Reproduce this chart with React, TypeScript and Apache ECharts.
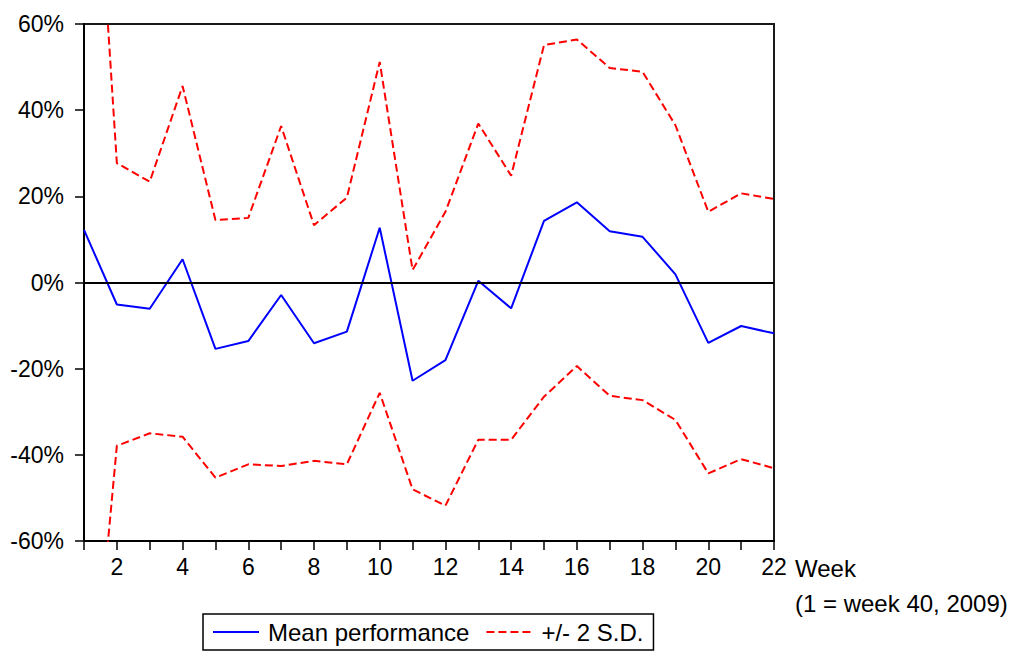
import React, { useEffect, useRef } from "react";
import * as echarts from "echarts";

const weeks = [1, 2, 3, 4, 5, 6, 7, 8, 9, 10, 11, 12, 13, 14, 15, 16, 17, 18, 19, 20, 21, 22];
const meanPerformance = [12.2, -5.1, -6.1, 5.4, -15.4, -13.6, -2.9, -14.1, -11.4, 12.7, -22.8, -18.0, 0.4, -6.0, 14.3, 18.6, 11.9, 10.6, 1.9, -14.0, -10.1, -11.8];
const upperBand = [146, 27.7, 23.4, 45.6, 14.5, 15.0, 36.3, 13.3, 19.7, 51.2, 2.9, 16.4, 36.9, 24.8, 55.1, 56.4, 49.8, 48.9, 36.5, 16.4, 20.7, 19.4];
const lowerBand = [-120, -37.9, -35.0, -35.8, -45.3, -42.2, -42.6, -41.4, -42.2, -25.6, -48.0, -51.8, -36.5, -36.5, -26.5, -19.4, -26.3, -27.3, -31.9, -44.3, -41.0, -43.1];
const yTicks = { min: -60, max: 60, step: 20 };
const meanName = "Mean performance";
const bandName = "+/- 2 S.D.";
const axisName = "Week";
const axisNote = "(1 = week 40, 2009)";

export default function App() {
  const ref = useRef<HTMLDivElement>(null);
  useEffect(() => {
    const chart = echarts.init(ref.current!, null, { renderer: "svg" });
    const font = "'Liberation Sans', Arial, sans-serif";
    chart.setOption({
      animation: false,
      backgroundColor: "#ffffff",
      grid: { left: 84, right: 245, top: 24, bottom: 113, show: true, borderColor: "#1a1a1a", borderWidth: 2 },
      xAxis: {
        type: "value",
        min: 1,
        max: 22,
        interval: 1,
        axisLine: { onZero: false, lineStyle: { color: "#000", width: 2 } },
        axisTick: { length: 9, lineStyle: { color: "#000", width: 1.5 } },
        axisLabel: {
          formatter: (v: number) => (v % 2 === 0 ? String(v) : ""),
          color: "#000",
          fontSize: 23,
          fontFamily: font,
          margin: 14,
        },
        splitLine: { show: false },
      },
      yAxis: {
        type: "value",
        min: yTicks.min,
        max: yTicks.max,
        interval: yTicks.step,
        axisLine: { show: true, lineStyle: { color: "#000", width: 2 } },
        axisTick: { show: true, length: 9, lineStyle: { color: "#000", width: 1.5 } },
        axisLabel: { formatter: "{value}%", color: "#000", fontSize: 23, fontFamily: font, margin: 20 },
        splitLine: { show: false },
      },
      legend: {
        data: [meanName, bandName],
        left: 203,
        top: 614,
        orient: "horizontal",
        borderColor: "#000",
        borderWidth: 1.5,
        padding: [6, 10, 6, 9],
        itemWidth: 46,
        itemHeight: 20,
        itemGap: 16,
        itemStyle: { color: "rgba(0,0,0,0)", borderWidth: 0, opacity: 0 },
        textStyle: { fontSize: 24, color: "#000", fontFamily: font, padding: [0, 0, 0, 4] },
      },
      graphic: [
        { type: "text", style: { x: 795, y: 568, text: axisName, fontSize: 24, fontFamily: font, fill: "#000", verticalAlign: "middle" } },
        { type: "text", style: { x: 795, y: 603, text: axisNote, fontSize: 24, fontFamily: font, fill: "#000", verticalAlign: "middle" } },
      ],
      series: [
        {
          name: meanName,
          type: "line",
          data: weeks.map((w, i) => [w, meanPerformance[i]]),
          symbol: "none",
          lineStyle: { color: "#0000ff", width: 2 },
          itemStyle: { color: "#0000ff" },
          z: 3,
          markLine: {
            silent: true,
            symbol: "none",
            label: { show: false },
            lineStyle: { color: "#000", width: 2, type: "solid" },
            data: [{ yAxis: 0 }],
          },
        },
        {
          name: bandName,
          type: "line",
          data: weeks.map((w, i) => [w, upperBand[i]]),
          symbol: "none",
          lineStyle: { color: "#ff0000", width: 2, type: [8, 4] },
          itemStyle: { color: "#ff0000" },
        },
        {
          name: bandName,
          type: "line",
          data: weeks.map((w, i) => [w, lowerBand[i]]),
          symbol: "none",
          lineStyle: { color: "#ff0000", width: 2, type: [8, 4] },
          itemStyle: { color: "#ff0000" },
        },
      ],
    });
    return () => chart.dispose();
  }, []);
  return (
    <div
      ref={ref}
      style={{ position: "fixed", left: 0, top: 0, width: 1019, height: 654, background: "#fff" }}
    />
  );
}
